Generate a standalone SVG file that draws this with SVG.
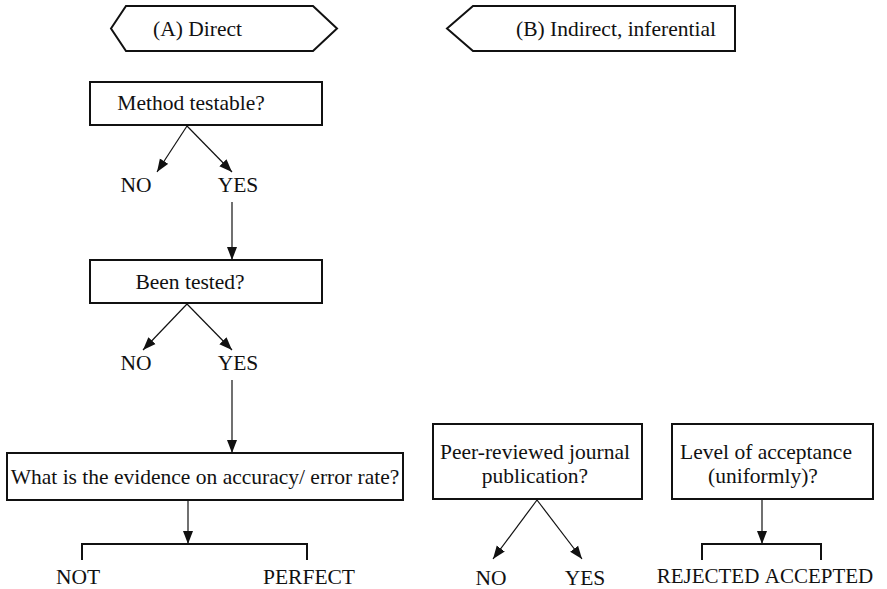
<svg xmlns="http://www.w3.org/2000/svg" width="887" height="589" viewBox="0 0 887 589" font-family="'Liberation Serif', 'Times New Roman', Times, serif">
  <defs>
    <marker id="arrow" viewBox="0 0 13 11" refX="13" refY="5.5" markerWidth="13" markerHeight="11" markerUnits="userSpaceOnUse" orient="auto">
      <path d="M0,0.5 L13,5.5 L0,10.5 Z" fill="#111"/>
    </marker>
    <style>
      text { font-family: 'Liberation Serif', 'Times New Roman', Times, serif; font-size: 21.5px; fill: #111; text-anchor: middle; }
      text.tight { font-size: 21px; }
      .box { fill: #fff; stroke: #111; stroke-width: 2; }
      .link { fill: none; stroke: #111; stroke-width: 1.2; }
      .bracket { fill: none; stroke: #111; stroke-width: 2; }
    </style>
  </defs>
  <rect width="887" height="589" fill="#fff"/>

  <!-- column headers -->
  <g id="header-direct">
    <polygon class="box" points="111,28.5 126,6 313,6 337,28.5 313,51 126,51"/>
    <text x="197.5" y="36">(A) Direct</text>
  </g>
  <g id="header-indirect">
    <polygon class="box" points="447,28.5 473,6 735,6 735,51 473,51"/>
    <text x="616" y="36">(B) Indirect, inferential</text>
  </g>

  <!-- column A -->
  <g id="method-testable">
    <rect class="box" x="90" y="82" width="232" height="43"/>
    <text x="191" y="110">Method testable?</text>
  </g>
  <g id="mt-no"><text x="136" y="192">NO</text></g>
  <g id="mt-yes"><text x="238" y="192">YES</text></g>

  <g id="been-tested">
    <rect class="box" x="90" y="260" width="232" height="43"/>
    <text x="190" y="289">Been tested?</text>
  </g>
  <g id="bt-no"><text x="136" y="370">NO</text></g>
  <g id="bt-yes"><text x="238" y="370">YES</text></g>

  <g id="evidence">
    <rect class="box" x="7" y="453" width="396" height="47"/>
    <text x="205" y="484">What is the evidence on accuracy/ error rate?</text>
  </g>
  <g id="ev-not"><text x="78" y="584">NOT</text></g>
  <g id="ev-perfect"><text x="309" y="584">PERFECT</text></g>

  <!-- column B -->
  <g id="peer-review">
    <rect class="box" x="433" y="424" width="209" height="75"/>
    <text x="535" y="459">Peer-reviewed journal</text>
    <text x="535" y="483">publication?</text>
  </g>
  <g id="pr-no"><text x="491" y="585">NO</text></g>
  <g id="pr-yes"><text x="585" y="585">YES</text></g>

  <g id="acceptance">
    <rect class="box" x="672" y="424" width="201" height="75"/>
    <text x="766" y="459">Level of acceptance</text>
    <text x="763" y="483">(uniformly)?</text>
  </g>
  <g id="ac-rejected"><text class="tight" x="708" y="583">REJECTED</text></g>
  <g id="ac-accepted"><text class="tight" x="819" y="583">ACCEPTED</text></g>

  <!-- connectors -->
  <g id="connectors">
    <line class="link" x1="187" y1="126" x2="157" y2="172" marker-end="url(#arrow)"/>
    <line class="link" x1="187" y1="126" x2="232" y2="172" marker-end="url(#arrow)"/>
    <line class="link" x1="232" y1="202" x2="232" y2="260" marker-end="url(#arrow)"/>

    <line class="link" x1="187" y1="304" x2="143" y2="350" marker-end="url(#arrow)"/>
    <line class="link" x1="187" y1="304" x2="232" y2="350" marker-end="url(#arrow)"/>
    <line class="link" x1="232" y1="380" x2="232" y2="453" marker-end="url(#arrow)"/>

    <line class="link" x1="188" y1="501" x2="188" y2="544" marker-end="url(#arrow)"/>
    <polyline class="bracket" points="82,560 82,544 307,544 307,560"/>

    <line class="link" x1="537" y1="500" x2="493" y2="559" marker-end="url(#arrow)"/>
    <line class="link" x1="537" y1="500" x2="582" y2="559" marker-end="url(#arrow)"/>

    <line class="link" x1="762" y1="500" x2="762" y2="544" marker-end="url(#arrow)"/>
    <polyline class="bracket" points="702,560 702,544 821,544 821,560"/>
  </g>
</svg>
